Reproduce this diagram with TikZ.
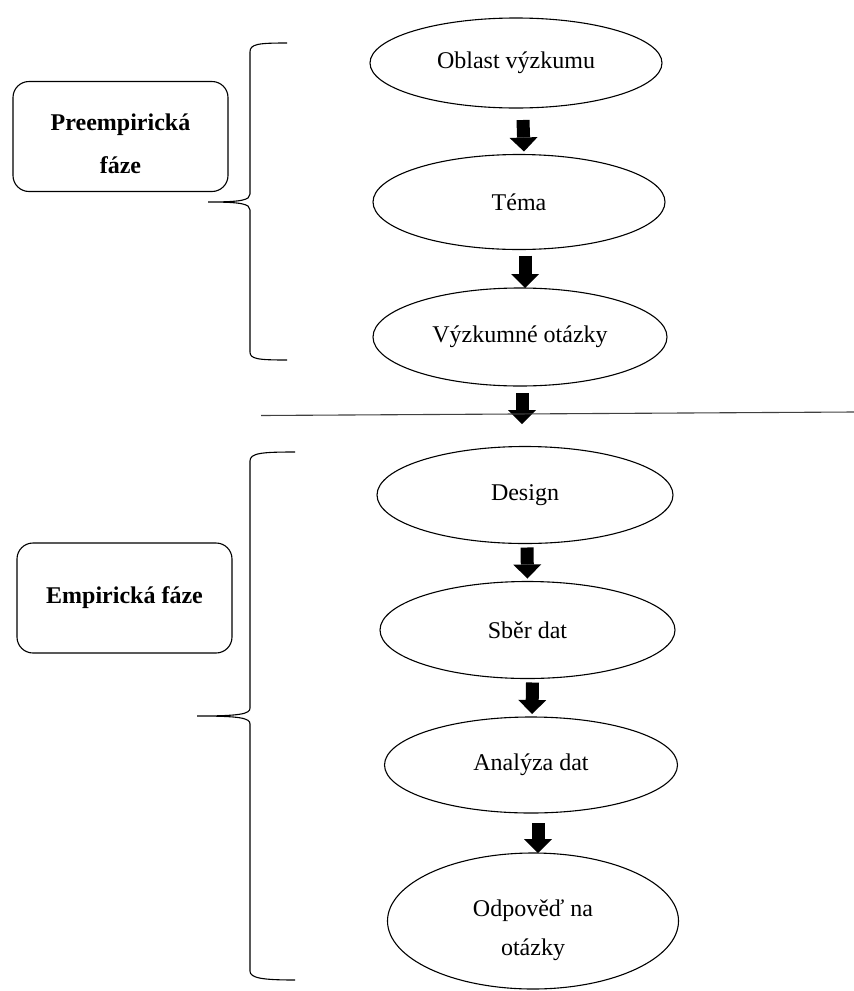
\documentclass[tikz,border=0pt]{standalone}
\usepackage{fontspec}
\setmainfont{Liberation Serif}
\usetikzlibrary{shapes.geometric,arrows.meta}
\begin{document}
\begin{tikzpicture}[x=1pt,y=-1pt]
	\tikzstyle{every node}+=[inner sep=0pt, outer sep=0pt, font=\fontsize{24}{39}\selectfont]
	\tikzstyle{oval}=[draw, ellipse, line width=1.1pt, align=center]
	\tikzstyle{phase}=[draw, rounded corners=16pt, line width=1.1pt, align=center, minimum width=215pt, minimum height=110pt, font=\fontsize{24}{43}\selectfont\bfseries]
	\tikzstyle{blockarrow}=[line width=13pt, -{Triangle[length=14pt, width=28pt, line width=0pt]}]
	\tikzstyle{bracket}=[line width=1.1pt]
	\useasboundingbox (0,0) rectangle (854,991);
	% phases
	\node [phase] (pre) at (120.5,136.5) {\rule{0pt}{31pt}Preempirická\\fáze};
	\node [phase] (emp) at (124.5,598) {Empirická fáze};
	% steps
	\node [oval, minimum width=292pt, minimum height=90pt] (oblast) at (516,63) {Oblast výzkumu};
	\node [oval, minimum width=292pt, minimum height=95pt] (tema) at (519,202) {Téma};
	\node [oval, minimum width=294pt, minimum height=98pt] (otazky) at (520,337) {Výzkumné otázky};
	\node [oval, minimum width=296pt, minimum height=97pt] (design) at (525,495) {Design};
	\node [oval, minimum width=295pt, minimum height=97pt] (sber) at (527.5,630) {Sběr dat};
	\node [oval, minimum width=293pt, minimum height=96pt] (analyza) at (531,765) {Analýza dat};
	\node [oval, minimum width=291pt, minimum height=136pt] (odpoved) at (533,921) {\rule{0pt}{36pt}Odpověď na\\otázky};
	% arrows
	\draw [blockarrow] ([xshift=7pt,yshift=-12pt]oblast.south) -- ([xshift=5pt,yshift=3pt]tema.north);
	\draw [blockarrow] ([xshift=6pt,yshift=-6pt]tema.south) -- ([xshift=5pt]otazky.north);
	\draw [blockarrow] ([xshift=2pt,yshift=-7pt]otazky.south) -- ([xshift=2pt,yshift=-38pt]otazky.south);
	\draw [blockarrow] ([xshift=2pt,yshift=-4pt]design.south) -- ([yshift=3pt]sber.north);
	\draw [blockarrow] ([xshift=5pt,yshift=-4pt]sber.south) -- ([xshift=1pt,yshift=3pt]analyza.north);
	\draw [blockarrow] ([xshift=7pt,yshift=-10pt]analyza.south) -- ([xshift=5pt]odpoved.north);
	% divider
	\draw [line width=1.1pt, black!75] (261,415.5) -- (854,412);
	% brackets
	\draw [bracket] (287,43) .. controls (258,43) and (250,44) .. (250,52) -- (250,194)
		.. controls (250,200) and (242,202) .. (208,202)
		.. controls (242,202) and (250,204) .. (250,210) -- (250,352)
		.. controls (250,359) and (258,360) .. (287,360);
	\draw [bracket] (295,452) .. controls (262,452) and (250,453) .. (250,461) -- (250,708)
		.. controls (250,714) and (240,716) .. (197,716)
		.. controls (240,716) and (250,718) .. (250,724) -- (250,971)
		.. controls (250,978) and (262,980) .. (295,980);
\end{tikzpicture}
\end{document}
